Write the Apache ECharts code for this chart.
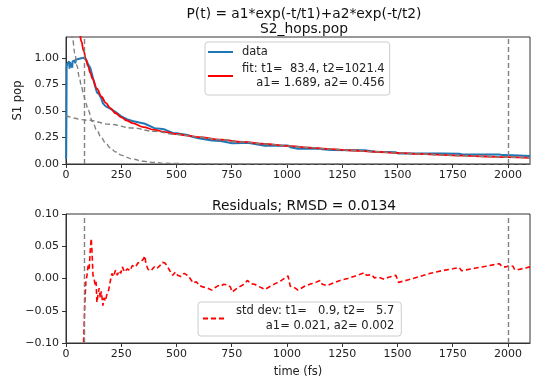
<!DOCTYPE html>
<html>
<head>
<meta charset="utf-8">
<script src="https://cdn.jsdelivr.net/npm/echarts@6/dist/echarts.min.js"></script>
<style>
html,body{margin:0;padding:0;background:#fff;}
#chart{width:540px;height:383px;}
</style>
</head>
<body>
<div id="chart"></div>
<script>
// ---- data ----
const titleTop = 'P(t) = a1*exp(-t/t1)+a2*exp(-t/t2)\nS2_hops.pop';
const titleBottom = 'Residuals; RMSD = 0.0134';
const fitLine1 = 'fit: t1=  83.4, t2=1021.4';
const fitLine2 = 'a1= 1.689, a2= 0.456';
const sdLine1 = 'std dev: t1=   0.9, t2=   5.7';
const sdLine2 = 'a1= 0.021, a2= 0.002';
const t1Marker = 83.4;
const endMarker = 2000;

const popData = [
 [0,0.05],[1,0.08],[2,0.5],[3,0.92],[6,0.95],[10,0.96],[14,0.97],[16,0.9],[18,0.96],[22,0.965],
 [26,0.97],[28,0.91],[30,0.97],[35,0.975],[40,0.98],[42,0.95],[44,0.985],[50,0.99],[60,0.995],
 [70,1.0],[80,1.005],[86,1.01],[90,0.987],[100,0.943],[110,0.906],[114,0.900],[120,0.83],
 [127,0.771],[140,0.676],[150,0.658],[160,0.618],[167,0.573],[180,0.544],[200,0.523],
 [225,0.49],[250,0.451],[275,0.423],[300,0.406],[357,0.380],[362,0.364],[400,0.339],
 [437,0.331],[450,0.323],[483,0.294],[500,0.29],[550,0.274],[575,0.2545],[600,0.244],
 [660,0.222],[700,0.218],[752,0.197],[800,0.198],[822,0.201],[900,0.172],[1005,0.1745],
 [1015,0.158],[1050,0.145],[1100,0.145],[1150,0.145],[1160,0.1385],[1200,0.133],[1300,0.1297],
 [1352,0.1304],[1360,0.1255],[1400,0.1168],[1493,0.1107],[1505,0.0985],[1600,0.0982],
 [1700,0.0983],[1780,0.0968],[1790,0.0915],[1900,0.090],[1961,0.0898],[1975,0.084],
 [2023,0.082],[2030,0.0766],[2100,0.0764]
];

const fitVals = [
 [0,2.145],[10,1.950],[20,1.776],[30,1.6215],[40,1.484],[50,1.361],[60,1.2525],[70,1.1555],
 [80,1.069],[90,0.9917],[100,0.9228],[110,0.8611],[120,0.8062],[140,0.7128],[160,0.638],
 [180,0.5774],[200,0.5284],[225,0.4795],[250,0.4412],[275,0.4108],[300,0.3863],[350,0.3491],
 [400,0.3223],[450,0.3012],[500,0.2837],[550,0.2686],[600,0.2547],[700,0.2302],[800,0.2084],
 [900,0.1889],[1000,0.1713],[1100,0.1553],[1200,0.1408],[1300,0.1277],[1400,0.1158],
 [1500,0.1050],[1600,0.0952],[1700,0.0863],[1800,0.0783],[1900,0.0710],[2000,0.0644],[2100,0.0584]
];

const comp1Vals = [
 [0,1.689],[10,1.498],[20,1.329],[30,1.179],[40,1.0455],[50,0.927],[60,0.8225],[70,0.7297],
 [80,0.6473],[90,0.5741],[100,0.5093],[120,0.4007],[140,0.3152],[160,0.2481],[180,0.1951],
 [200,0.1535],[225,0.1137],[250,0.0842],[275,0.0624],[300,0.0463],[350,0.0254],[400,0.01395],
 [450,0.00765],[500,0.0042],[600,0.00127],[700,0.0004],[800,0.0001],[1000,0],[1500,0],[2100,0]
];

const comp2Vals = [
 [0,0.456],[100,0.4135],[200,0.3749],[300,0.340],[400,0.3083],[500,0.2795],[600,0.2534],
 [700,0.2298],[800,0.2083],[900,0.1889],[1000,0.1713],[1100,0.1553],[1200,0.1408],[1300,0.1277],
 [1400,0.1158],[1500,0.1050],[1600,0.0952],[1700,0.0863],[1800,0.0783],[1900,0.0710],
 [2000,0.0644],[2100,0.0584]
];

const resVals = [
 [60,-0.26],[70,-0.17],[75,-0.13],[80,-0.095],[85,-0.04],[90,-0.005],[95,0.005],[100,0.02],
 [105,0.015],[110,0.045],[114,0.062],[118,0.04],[122,0.005],[127,0.0],[132,-0.01],[136,-0.005],
 [140,-0.037],[145,-0.025],[150,-0.015],[155,-0.03],[160,-0.02],[167,-0.042],[172,-0.03],
 [178,-0.035],[185,-0.025],[193,-0.018],[200,-0.005],[208,0.008],[215,0.003],[224,0.013],
 [232,0.005],[240,0.012],[248,0.008],[255,0.018],[265,0.01],[278,0.015],[290,0.012],[300,0.02],
 [315,0.018],[325,0.024],[339,0.026],[350,0.03],[357,0.035],[362,0.022],[372,0.014],[385,0.012],
 [399,0.018],[410,0.015],[425,0.02],[437,0.025],[448,0.024],[460,0.018],[470,0.012],[483,0.005],
 [495,0.01],[505,0.005],[520,0.003],[535,0.008],[550,0.005],[562,0.0],[575,-0.007],[590,-0.005],
 [604,-0.011],[620,-0.013],[640,-0.015],[660,-0.018],[675,-0.014],[690,-0.011],[700,-0.012],
 [713,-0.009],[730,-0.010],[744,-0.013],[752,-0.021],[775,-0.015],[800,-0.01],[822,-0.003],
 [835,-0.008],[853,-0.009],[870,-0.012],[900,-0.017],[925,-0.012],[947,-0.008],[975,-0.003],
 [1005,0.004],[1010,0.002],[1015,-0.012],[1030,-0.013],[1050,-0.018],[1080,-0.012],[1110,-0.008],
 [1130,-0.006],[1150,-0.003],[1160,-0.009],[1181,-0.011],[1210,-0.007],[1240,-0.003],[1275,0.0],
 [1310,0.004],[1352,0.009],[1360,0.005],[1384,0.006],[1395,0.001],[1415,0.002],[1440,-0.001],
 [1460,0.002],[1493,0.005],[1505,-0.006],[1550,-0.002],[1600,0.003],[1649,0.008],[1700,0.012],
 [1750,0.015],[1780,0.017],[1790,0.012],[1850,0.016],[1900,0.019],[1961,0.023],[1975,0.018],
 [1992,0.018],[2005,0.02],[2023,0.019],[2030,0.014],[2050,0.014],[2075,0.016],[2100,0.018]
];

const xRange = [0, 2100], xStep = 250;
const yTopRange = [0, 1.2], yTopStep = 0.25;
const yBotRange = [-0.1, 0.1], yBotStep = 0.05;

// ---- chart ----
const FONT = 'DejaVu Sans';
const AX = '#333';
const TXT = '#222';
const GRAY = '#808080';
const chart = echarts.init(document.getElementById('chart'), null, {renderer:'canvas'});

function xAxisCfg(gi, name){
  return {
    type:'value', gridIndex:gi, min:xRange[0], max:xRange[1], interval:xStep,
    name:name||'', nameLocation:'middle', nameGap:23,
    nameTextStyle:{fontFamily:FONT, fontSize:11.5, color:TXT},
    axisLine:{onZero:false, lineStyle:{color:AX, width:1}},
    axisTick:{length:4, lineStyle:{color:AX}},
    axisLabel:{fontFamily:FONT, fontSize:11, color:TXT, margin:6, showMaxLabel:false,
      formatter:v=>String(v)},
    splitLine:{show:false}
  };
}
const minus = s => s.replace('-', '\u2212');
function yAxisCfg(gi, range, step, name){
  return {
    type:'value', gridIndex:gi, min:range[0], max:range[1], interval:step,
    name:name||'', nameLocation:'middle', nameGap:39,
    nameTextStyle:{fontFamily:FONT, fontSize:11.5, color:TXT},
    axisLine:{show:true, onZero:false, lineStyle:{color:AX, width:1}},
    axisTick:{show:true, length:4, lineStyle:{color:AX}},
    axisLabel:{fontFamily:FONT, fontSize:11, color:TXT, margin:7, showMaxLabel: gi===1,
      formatter:v=>minus(v.toFixed(2))},
    splitLine:{show:false}
  };
}
const vMarks = {
  symbol:'none', silent:true, label:{show:false},
  lineStyle:{color:GRAY, type:[5,3], width:1.4},
  data:[{xAxis:t1Marker},{xAxis:endMarker}]
};

const option = {
  animation:false,
  backgroundColor:'#fff',
  textStyle:{fontFamily:FONT},
  title:[
    {text:titleTop, left:299, top:2, textAlign:'center',
      textStyle:{fontFamily:FONT, fontSize:13.8, fontWeight:'normal', color:'#111', lineHeight:15}},
    {text:titleBottom, left:299, top:194, textAlign:'center',
      textStyle:{fontFamily:FONT, fontSize:13.8, fontWeight:'normal', color:'#111', lineHeight:15}}
  ],
  grid:[
    {left:66, top:37, right:10, height:127, show:true, borderColor:AX, borderWidth:1, backgroundColor:'#fff'},
    {left:66, top:214, right:10, height:129, show:true, borderColor:AX, borderWidth:1, backgroundColor:'#fff'}
  ],
  xAxis:[xAxisCfg(0), xAxisCfg(1,'time (fs)')],
  yAxis:[yAxisCfg(0, yTopRange, yTopStep, 'S1 pop'), yAxisCfg(1, yBotRange, yBotStep)],
  legend:[
    {data:['data','fit'], orient:'vertical', left:205, top:42, itemWidth:25, itemHeight:12,
      itemGap:3, padding:[3,5,5,2], borderColor:'#ccc', borderWidth:1, borderRadius:3,
      backgroundColor:'rgba(255,255,255,0.85)',
      itemStyle:{opacity:0},
      textStyle:{fontFamily:FONT, fontSize:11.5, color:TXT, lineHeight:14, padding:[0,0,0,4],
        rich:{r:{fontFamily:FONT, fontSize:11.5, color:TXT, align:'right', lineHeight:14},
              l:{fontFamily:FONT, fontSize:11.5, color:TXT, lineHeight:14}}},
      formatter:n => n==='fit' ? ('{r|'+fitLine1+'}\n{r|'+fitLine2+'}') : ('{l|'+n+'}')
    },
    {data:['std'], orient:'vertical', left:198, top:302, itemWidth:23, itemHeight:12,
      padding:[2,7,3,4], borderColor:'#ccc', borderWidth:1, borderRadius:3,
      backgroundColor:'rgba(255,255,255,0.85)',
      itemStyle:{opacity:0},
      textStyle:{fontFamily:FONT, fontSize:11.5, color:TXT, lineHeight:14.5, padding:[0,0,0,5],
        rich:{r:{fontFamily:FONT, fontSize:11.5, color:TXT, align:'right', lineHeight:14.5}}},
      formatter:n => '{r|'+sdLine1+'}\n{r|'+sdLine2+'}'
    }
  ],
  series:[
    {name:'data', type:'line', xAxisIndex:0, yAxisIndex:0, data:popData, symbol:'none',
      lineStyle:{color:'#1f77b4', width:2}, itemStyle:{color:'#1f77b4'}, z:3, clip:true},
    {name:'fit', type:'line', xAxisIndex:0, yAxisIndex:0, data:fitVals, symbol:'none',
      smooth:0.4, smoothMonotone:'x',
      lineStyle:{color:'#ff0000', width:1.8}, itemStyle:{color:'#ff0000'}, z:4, clip:true},
    {name:'comp1', type:'line', xAxisIndex:0, yAxisIndex:0, data:comp1Vals, symbol:'none',
      smooth:0.4, smoothMonotone:'x',
      lineStyle:{color:GRAY, width:1.4, type:[5,3]}, z:5, clip:true},
    {name:'comp2', type:'line', xAxisIndex:0, yAxisIndex:0, data:comp2Vals, symbol:'none',
      smooth:0.4, smoothMonotone:'x',
      lineStyle:{color:GRAY, width:1.4, type:[5,3]}, z:5, clip:true, markLine:vMarks},
    {name:'std', type:'line', xAxisIndex:1, yAxisIndex:1, data:resVals, symbol:'none',
      lineStyle:{color:'#ff0000', width:1.6, type:[5,3]}, itemStyle:{color:'#ff0000'}, z:4, clip:true,
      markLine:vMarks}
  ]
};
chart.setOption(option);
</script>
</body>
</html>
